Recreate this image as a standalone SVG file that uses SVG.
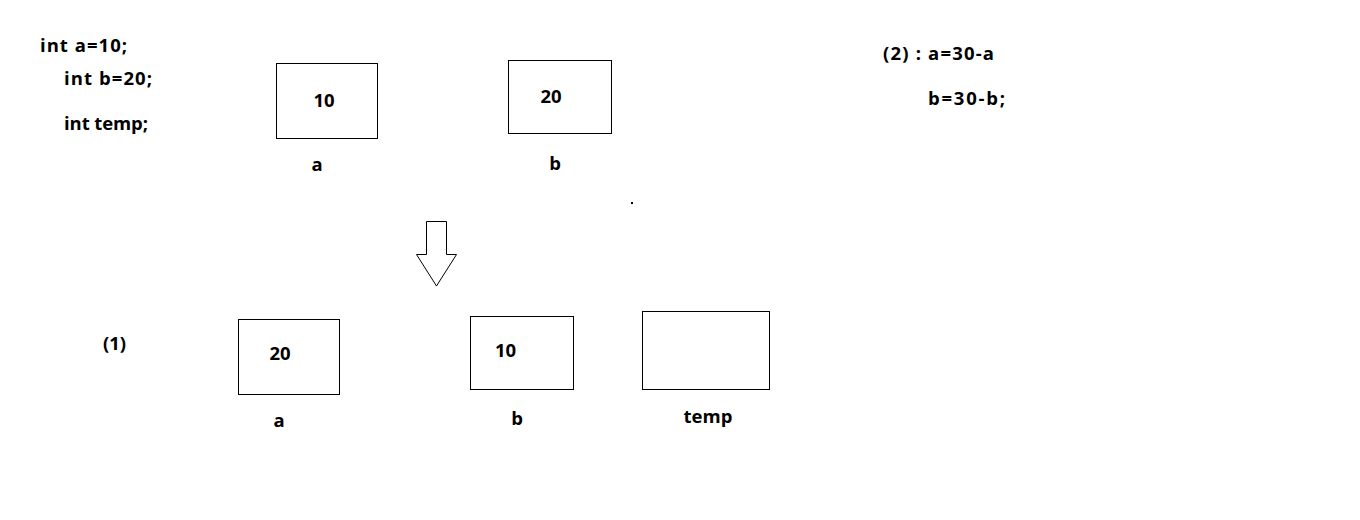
<svg xmlns="http://www.w3.org/2000/svg" width="1360" height="520" viewBox="0 0 1360 520">
  <style>
    text { font-family: "Open Sans", "Noto Sans", "Liberation Sans", sans-serif; font-weight: bold; font-size: 18.5px; fill: #000; }
    .c { text-anchor: middle; }
    .box { fill: #fff; stroke: #000; stroke-width: 1; }
  </style>
  <rect x="0" y="0" width="1360" height="520" fill="#fff"/>

  <g id="code">
    <text x="40" y="52" textLength="87" lengthAdjust="spacing">int a=10;</text>
    <text x="64" y="85" textLength="88" lengthAdjust="spacing">int b=20;</text>
    <text x="64" y="130" textLength="84" lengthAdjust="spacing">int temp;</text>
  </g>

  <g id="method2">
    <text x="883" y="60" textLength="111" lengthAdjust="spacing">(2) : a=30-a</text>
    <text x="928" y="105" textLength="77" lengthAdjust="spacing">b=30-b;</text>
  </g>

  <g id="top-a">
    <rect class="box" x="276.5" y="63.5" width="101" height="75"/>
    <text class="c" x="324" y="107">10</text>
    <text class="c" x="317" y="171">a</text>
  </g>

  <g id="top-b">
    <rect class="box" x="508.5" y="60.5" width="103" height="73"/>
    <text class="c" x="551" y="103">20</text>
    <text class="c" x="555" y="170">b</text>
  </g>

  <rect id="dot" x="631" y="202" width="2" height="2" fill="#000"/>

  <g id="connectors">
    <polygon points="426.5,221.5 446.5,221.5 446.5,254.5 456.5,254.5 436.5,286 416.5,254.5 426.5,254.5" fill="#fff" stroke="#000" stroke-width="1"/>
  </g>

  <g id="label1">
    <text x="103" y="350">(1)</text>
  </g>

  <g id="bottom-a">
    <rect class="box" x="238.5" y="319.5" width="101" height="75"/>
    <text class="c" x="280" y="360">20</text>
    <text class="c" x="279" y="427">a</text>
  </g>

  <g id="bottom-b">
    <rect class="box" x="470.5" y="316.5" width="103" height="73"/>
    <text class="c" x="505.5" y="357">10</text>
    <text class="c" x="517" y="425">b</text>
  </g>

  <g id="bottom-temp">
    <rect class="box" x="642.5" y="311.5" width="127" height="78"/>
    <text class="c" x="708" y="423">temp</text>
  </g>
</svg>
